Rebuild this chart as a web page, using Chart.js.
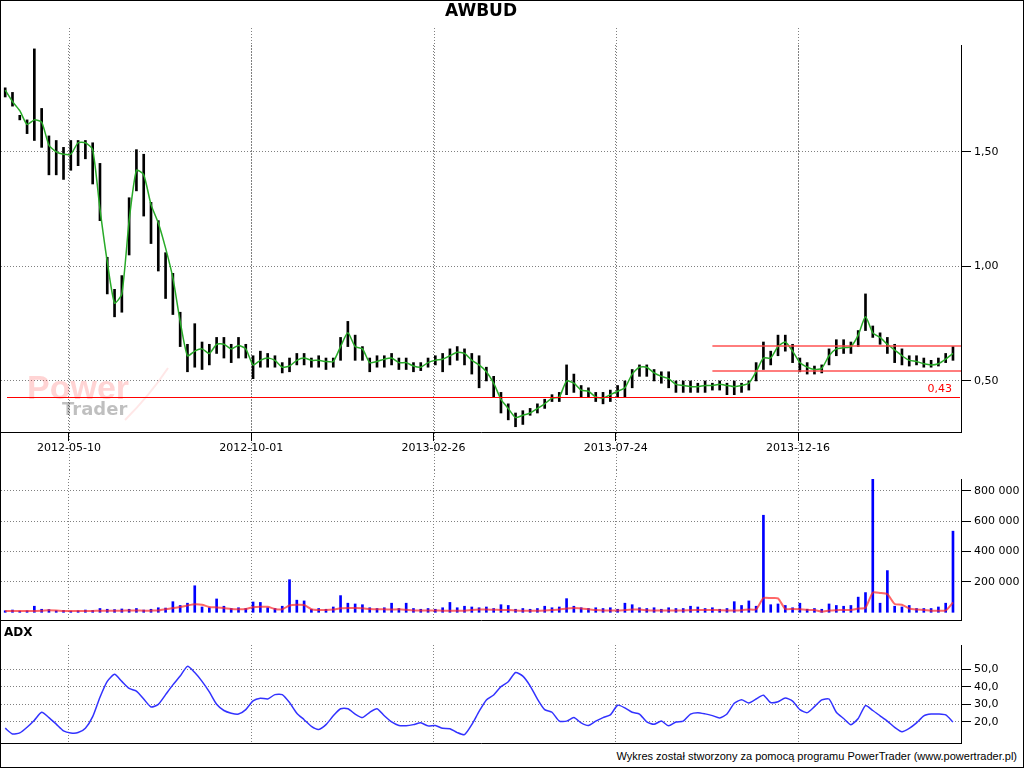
<!DOCTYPE html>
<html>
<head>
<meta charset="utf-8">
<title>AWBUD</title>
<script src="https://cdn.jsdelivr.net/npm/chart.js@4/dist/chart.umd.min.js"></script>
<style>
body { margin: 0; background: #fff; }
#page { position: relative; width: 1024px; height: 768px; overflow: hidden; }
canvas { position: absolute; left: 0; }
#frame { position: absolute; left: 0; top: 0; width: 1024px; height: 768px; box-sizing: border-box; border: 1px solid #000; pointer-events: none; }
#title { position: absolute; top: 0; left: 0; width: 962px; text-align: center; font: bold 17px "DejaVu Sans", sans-serif; }
#adxLabel { position: absolute; left: 4px; top: 625px; font: bold 12px "DejaVu Sans", sans-serif; }
#footer { position: absolute; right: 7px; top: 750px; font: 11px "Liberation Sans", sans-serif; }
</style>
</head>
<body>
<div id="page">
  <canvas id="priceChart" width="1024" height="470" style="top:0"></canvas>
  <canvas id="volumeChart" width="1024" height="151" style="top:470px"></canvas>
  <canvas id="adxChart" width="1024" height="123" style="top:621px"></canvas>
  <div id="title">AWBUD</div>
  <div id="adxLabel">ADX</div>
  <div id="footer">Wykres został stworzony za pomocą programu PowerTrader (www.powertrader.pl)</div>
  <div id="frame"></div>
</div>
<script>
// one point every 4 sessions, session 0 = first bar
const SESSION_STEP = 4
const tickDates = ['2012-05-10', '2012-10-01', '2013-02-26', '2013-07-24', '2013-12-16']
const tickSessions = [35, 135, 235, 335, 435]

const priceHigh = [
    1.78, 1.76, 1.66, 1.64, 1.95, 1.69, 1.57, 1.55, 1.52, 1.55,
    1.55, 1.55, 1.54, 1.45, 1.04, 0.90, 0.96, 1.30, 1.51, 1.49,
    1.28, 1.20, 1.06, 0.97, 0.80, 0.66, 0.75, 0.67, 0.66, 0.69,
    0.69, 0.66, 0.69, 0.66, 0.61, 0.63, 0.62, 0.61, 0.58, 0.60,
    0.62, 0.62, 0.60, 0.61, 0.60, 0.60, 0.69, 0.76, 0.70, 0.65,
    0.60, 0.61, 0.61, 0.62, 0.60, 0.60, 0.58, 0.58, 0.60, 0.61,
    0.62, 0.64, 0.65, 0.64, 0.62, 0.61, 0.56, 0.52, 0.45, 0.40,
    0.36, 0.37, 0.38, 0.40, 0.42, 0.44, 0.45, 0.57, 0.53, 0.48,
    0.47, 0.45, 0.45, 0.46, 0.48, 0.50, 0.55, 0.57, 0.57, 0.55,
    0.54, 0.54, 0.50, 0.50, 0.50, 0.49, 0.50, 0.49, 0.50, 0.49,
    0.50, 0.49, 0.50, 0.58, 0.67, 0.63, 0.70, 0.70, 0.66, 0.60,
    0.58, 0.565, 0.57, 0.64, 0.68, 0.68, 0.67, 0.72, 0.88, 0.74,
    0.71, 0.69, 0.66, 0.64, 0.61, 0.61, 0.60, 0.59, 0.60, 0.62,
    0.65
]
const priceLow = [
    1.74, 1.70, 1.64, 1.58, 1.55, 1.52, 1.40, 1.40, 1.38, 1.42,
    1.44, 1.47, 1.36, 1.20, 0.88, 0.78, 0.80, 1.05, 1.33, 1.22,
    1.10, 0.98, 0.86, 0.79, 0.65, 0.54, 0.56, 0.55, 0.57, 0.62,
    0.60, 0.58, 0.60, 0.60, 0.51, 0.56, 0.56, 0.56, 0.535, 0.54,
    0.57, 0.57, 0.56, 0.56, 0.55, 0.56, 0.59, 0.65, 0.59, 0.59,
    0.54, 0.56, 0.56, 0.57, 0.55, 0.55, 0.54, 0.545, 0.56, 0.57,
    0.54, 0.57, 0.59, 0.57, 0.53, 0.47, 0.50, 0.43, 0.36, 0.33,
    0.30, 0.31, 0.35, 0.36, 0.38, 0.41, 0.41, 0.44, 0.45, 0.43,
    0.43, 0.41, 0.40, 0.41, 0.43, 0.43, 0.47, 0.52, 0.52, 0.50,
    0.49, 0.47, 0.45, 0.45, 0.45, 0.45, 0.45, 0.46, 0.46, 0.44,
    0.44, 0.45, 0.46, 0.50, 0.55, 0.57, 0.61, 0.63, 0.58, 0.54,
    0.53, 0.53, 0.535, 0.57, 0.61, 0.62, 0.62, 0.65, 0.72, 0.69,
    0.66, 0.62, 0.58, 0.57, 0.565, 0.57, 0.56, 0.56, 0.565, 0.58,
    0.59
]
const priceAvg = [
    1.77, 1.72, 1.68, 1.62, 1.64, 1.63, 1.53, 1.50, 1.49, 1.49,
    1.54, 1.54, 1.51, 1.25, 1.02, 0.84, 0.88, 1.20, 1.42, 1.40,
    1.27, 1.19, 1.08, 0.95, 0.76, 0.61, 0.63, 0.64, 0.62, 0.66,
    0.66, 0.64, 0.655, 0.64, 0.57, 0.59, 0.60, 0.59, 0.56, 0.565,
    0.59, 0.60, 0.59, 0.59, 0.585, 0.585, 0.65, 0.71, 0.65, 0.64,
    0.58, 0.585, 0.595, 0.60, 0.58, 0.58, 0.565, 0.56, 0.58, 0.59,
    0.595, 0.61, 0.625, 0.62, 0.59, 0.57, 0.54, 0.49, 0.42, 0.38,
    0.34, 0.35, 0.36, 0.38, 0.40, 0.425, 0.43, 0.50, 0.49, 0.46,
    0.455, 0.43, 0.425, 0.44, 0.455, 0.47, 0.53, 0.56, 0.56, 0.535,
    0.52, 0.51, 0.485, 0.48, 0.475, 0.475, 0.48, 0.48, 0.485, 0.48,
    0.475, 0.48, 0.49, 0.54, 0.60, 0.60, 0.65, 0.67, 0.63, 0.58,
    0.56, 0.55, 0.555, 0.61, 0.64, 0.645, 0.65, 0.70, 0.78, 0.71,
    0.69, 0.66, 0.635, 0.61, 0.59, 0.585, 0.575, 0.57, 0.575, 0.595,
    0.62
]
const volume = [
    10000, 15000, 8000, 10000, 40000, 20000, 18000, 10000, 12000, 8000,
    10000, 15000, 12000, 25000, 20000, 18000, 22000, 20000, 25000, 15000,
    20000, 30000, 28000, 70000, 45000, 60000, 175000, 35000, 30000, 88000,
    40000, 25000, 30000, 25000, 68000, 65000, 30000, 25000, 40000, 215000,
    80000, 75000, 20000, 25000, 20000, 35000, 110000, 60000, 55000, 50000,
    30000, 25000, 30000, 60000, 25000, 60000, 25000, 20000, 25000, 20000,
    30000, 65000, 30000, 40000, 35000, 30000, 35000, 25000, 50000, 45000,
    20000, 25000, 20000, 25000, 40000, 30000, 35000, 90000, 40000, 30000,
    25000, 30000, 25000, 30000, 20000, 60000, 50000, 30000, 25000, 30000,
    20000, 30000, 25000, 25000, 40000, 35000, 25000, 30000, 20000, 25000,
    70000, 45000, 75000, 40000, 640000, 50000, 55000, 45000, 30000, 60000,
    20000, 25000, 20000, 55000, 45000, 40000, 45000, 100000, 130000, 890000,
    60000, 275000, 40000, 35000, 45000, 25000, 25000, 25000, 35000, 60000,
    535000
]
const volumeAvg = [
    8000, 8000, 8000, 8000, 9000, 10000, 14000, 12000, 8000, 8000,
    8000, 8000, 9000, 10000, 10000, 11000, 11000, 12000, 12000, 11000,
    11000, 12000, 20000, 28000, 35000, 45000, 53000, 50000, 35000, 32000,
    28000, 22000, 20000, 22000, 34000, 37000, 36000, 22000, 20000, 45000,
    50000, 48000, 20000, 15000, 15000, 18000, 26000, 28000, 28000, 26000,
    22000, 20000, 20000, 18000, 20000, 16000, 12000, 12000, 12000, 12000,
    11000, 10000, 10000, 10000, 15000, 18000, 18000, 17000, 15000, 15000,
    12000, 10000, 10000, 10000, 12000, 15000, 18000, 25000, 28000, 25000,
    20000, 15000, 12000, 12000, 12000, 15000, 18000, 18000, 14000, 12000,
    12000, 12000, 12000, 12000, 14000, 15000, 15000, 15000, 14000, 12000,
    12000, 14000, 18000, 20000, 94000, 94000, 92000, 22000, 22000, 20000,
    16000, 15000, 5000, 12000, 14000, 15000, 15000, 25000, 30000, 130000,
    128000, 120000, 55000, 50000, 25000, 18000, 15000, 10000, 10000, 12000,
    65000
]
const adx = [
    16.5, 13.2, 13.8, 17, 21, 25.5, 22.5, 18.8, 15, 13.8,
    14, 16.5, 23, 34, 43, 47, 43, 39, 37.5, 33,
    28.5, 30, 35.5, 41, 46, 51.5, 48, 43, 37, 30,
    26.5, 25, 24.5, 27, 32, 33.5, 33, 35.5, 35.5, 31,
    25, 21.3, 17.5, 15.8, 18.5, 23.5, 27.5, 27.5, 24.5, 22.5,
    25.5, 27.5, 23.5, 20, 18, 17.9, 18.5, 19.5, 17.8, 18,
    16.4, 16.2, 14, 12.8, 18.5, 26, 32.5, 35.3, 40, 42.8,
    48, 46, 40.5, 33, 27, 25.5, 20.5, 20.5, 22.5, 19.5,
    18, 20.5, 22.5, 24, 29.5, 28, 25.5, 24.5, 20, 18.7,
    20.5, 17.8, 20, 20.5, 24.5, 25.3, 24.6, 23.6, 22.3, 24.5,
    30.6, 32.6, 30.8, 33, 35.2, 31, 31.5, 33.6, 31.8, 27,
    25.3, 28.7, 32.5, 33, 25.5, 22, 18.5, 22, 29.3, 26.5,
    23.5, 20.5, 17, 14.5, 16.4, 19.5, 23.5, 24.5, 24.5, 24,
    20
]

const priceTicks = [0.5, 1.0, 1.5]
const volumeTicks = [200000, 400000, 600000, 800000]
const adxTicks = [20, 30, 40, 50]

const supportLevel = 0.43
const channelLevels = [0.653, 0.544]
const channelStart = 388

const X_MIN = -2.3
const X_MAX = 524.4
const FONT = 'DejaVu Sans'

const session = i => i * SESSION_STEP

function commaFixed(v, d) {
    return v.toFixed(d).replace('.', ',')
}

function spaced(v) {
    return String(v).replace(/\B(?=(\d{3})+(?!\d))/g, ' ')
}

// dotted date lines that run past the plot area
const vlinesPlugin = {
    id: 'vlines',
    beforeDraw(chart, args, opts) {
        const ctx = chart.ctx
        const xs = chart.scales.x
        ctx.save()
        ctx.strokeStyle = '#808080'
        ctx.lineWidth = 1
        ctx.setLineDash([1, 2])
        xs.ticks.forEach(t => {
            const px = Math.round(xs.getPixelForValue(t.value)) + 0.5
            ctx.beginPath()
            ctx.moveTo(px, opts.top)
            ctx.lineTo(px, opts.bottom)
            ctx.stroke()
        })
        ctx.restore()
    }
}

const watermarkPlugin = {
    id: 'watermark',
    beforeDatasetsDraw(chart) {
        const ctx = chart.ctx
        ctx.save()
        ctx.font = 'bold 34px "Liberation Sans"'
        ctx.fillStyle = 'rgba(255, 60, 60, 0.22)'
        ctx.fillText('Power', 27, 399)
        ctx.font = 'bold 18px "DejaVu Sans"'
        ctx.fillStyle = 'rgba(0, 0, 0, 0.25)'
        ctx.fillText('Trader', 62, 415)
        ctx.strokeStyle = 'rgba(255, 60, 60, 0.12)'
        ctx.lineWidth = 2
        ctx.beginPath()
        ctx.moveTo(125, 420)
        ctx.quadraticCurveTo(150, 395, 168, 368)
        ctx.stroke()
        ctx.restore()
    }
}

const levelsPlugin = {
    id: 'levels',
    afterDraw(chart) {
        const {ctx, chartArea, scales} = chart
        const y = scales.y
        const x = scales.x
        ctx.save()
        ctx.setLineDash([])
        const ys = Math.round(y.getPixelForValue(supportLevel))
        ctx.fillStyle = 'rgb(255, 0, 0)'
        ctx.fillRect(chartArea.left + 6, ys, chartArea.right - chartArea.left - 7, 1)
        ctx.font = '11px "' + FONT + '"'
        ctx.textAlign = 'right'
        ctx.fillText(commaFixed(supportLevel, 2), chartArea.right - 9, ys - 5)

        ctx.fillStyle = 'rgba(255, 70, 70, 0.7)'
        const x0 = x.getPixelForValue(channelStart)
        channelLevels.forEach(level => {
            const py = Math.round(y.getPixelForValue(level))
            ctx.fillRect(x0, py - 1, chartArea.right - x0, 2)
        })
        ctx.restore()
    }
}

function xAxis(showLabels, height) {
    return {
        type: 'linear',
        min: X_MIN,
        max: X_MAX,
        offset: false,
        afterBuildTicks: s => { s.ticks = tickSessions.map(v => ({value: v})) },
        afterFit: s => {
            s.height = height
            s.paddingLeft = 0
            s.paddingRight = 0
        },
        grid: {
            offset: false,
            color: '#808080',
            drawTicks: showLabels,
            tickLength: 9,
            tickColor: '#000',
            tickBorderDash: []
        },
        border: {display: true, color: '#000', width: 1, dash: [1, 2]},
        ticks: {
            display: showLabels,
            autoSkip: false,
            maxRotation: 0,
            padding: 1,
            color: '#000',
            font: {family: FONT, size: 11},
            callback: (v, i) => tickDates[i]
        }
    }
}

function yAxis(min, max, ticks, fmt) {
    return {
        type: 'linear',
        position: 'right',
        min: min,
        max: max,
        afterBuildTicks: s => { s.ticks = ticks.map(v => ({value: v})) },
        afterFit: s => {
            s.width = 63
            s.paddingTop = 0
            s.paddingBottom = 0
        },
        grid: {
            color: '#808080',
            tickLength: 10,
            tickColor: '#000',
            tickBorderDash: []
        },
        border: {display: true, color: '#000', width: 1, dash: [1, 2]},
        ticks: {
            padding: 3,
            color: '#000',
            font: {family: FONT, size: 11},
            callback: fmt
        }
    }
}

const baseOptions = {
    responsive: false,
    animation: false,
    events: []
}

function drawPrice() {
    new Chart('priceChart', {
        type: 'bar',
        data: {
            datasets: [
                {
                    type: 'line',
                    data: priceAvg.map((v, i) => ({x: session(i), y: v})),
                    borderColor: 'rgb(40, 170, 40)',
                    borderWidth: 1.5,
                    pointRadius: 0,
                    tension: 0.2,
                    order: 0
                },
                {
                    type: 'bar',
                    data: priceHigh.map((v, i) => ({x: session(i), y: [priceLow[i], v]})),
                    backgroundColor: '#000',
                    barThickness: 2,
                    order: 1
                }
            ]
        },
        options: {
            ...baseOptions,
            layout: {padding: {left: 1, top: 45, right: 0, bottom: 0}},
            plugins: {legend: {display: false}, tooltip: {enabled: false}, vlines: {top: 28, bottom: 470}},
            scales: {
                x: xAxis(true, 38),
                y: yAxis(0.277, 1.967, priceTicks, v => commaFixed(v, 2))
            }
        },
        plugins: [vlinesPlugin, watermarkPlugin, levelsPlugin]
    })
}

function drawVolume() {
    new Chart('volumeChart', {
        type: 'bar',
        data: {
            datasets: [
                {
                    type: 'line',
                    data: volumeAvg.map((v, i) => ({x: session(i), y: v})),
                    borderColor: 'rgba(255, 40, 40, 0.7)',
                    borderWidth: 2,
                    pointRadius: 0,
                    tension: 0.2,
                    order: 0
                },
                {
                    type: 'bar',
                    data: volume.map((v, i) => ({x: session(i), y: v})),
                    backgroundColor: '#0000ff',
                    barThickness: 2,
                    order: 1
                }
            ]
        },
        options: {
            ...baseOptions,
            layout: {padding: {left: 1, top: 9, right: 0, bottom: 1}},
            plugins: {legend: {display: false}, tooltip: {enabled: false}, vlines: {top: 0, bottom: 9}},
            scales: {
                x: xAxis(false, 0),
                y: yAxis(-50800, 879000, volumeTicks, v => spaced(v))
            }
        },
        plugins: [vlinesPlugin]
    })
}

function drawAdx() {
    new Chart('adxChart', {
        type: 'line',
        data: {
            datasets: [{
                data: adx.map((v, i) => ({x: session(i), y: v})),
                borderColor: 'rgb(50, 50, 255)',
                borderWidth: 1.5,
                pointRadius: 0,
                tension: 0.2
            }]
        },
        options: {
            ...baseOptions,
            layout: {padding: {left: 1, top: 24, right: 0, bottom: 1}},
            plugins: {legend: {display: false}, tooltip: {enabled: false}},
            scales: {
                x: xAxis(false, 0),
                y: yAxis(8.1, 63.6, adxTicks, v => commaFixed(v, 1))
            }
        }
    })
}

drawPrice()
drawVolume()
drawAdx()
</script>
</body>
</html>
